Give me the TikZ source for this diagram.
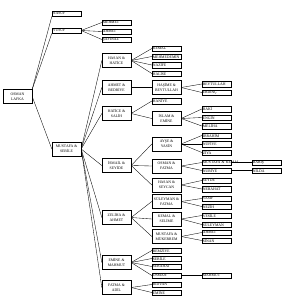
\documentclass[tikz,border=0pt]{standalone}
\usepackage{fontspec}
\setmainfont{Liberation Serif}
\begin{document}
\begin{tikzpicture}[x=1pt,y=-1pt,
  sbox/.style={draw, line width=0.35pt, minimum width=29pt, minimum height=5.5pt, text width=27.4pt, inner xsep=0.8pt, inner ysep=0.3pt, align=left, font=\fontsize{3.8}{3.9}\selectfont},
  dbox/.style={draw, line width=0.35pt, minimum width=29pt, minimum height=14pt, inner sep=0.5pt, align=center, font=\fontsize{3.8}{4.6}\selectfont},
  conn/.style={draw, line width=0.35pt}]
\useasboundingbox[fill=white] (0,0) rectangle (285,300);
% column 1
\node[dbox] (osman) at (17.5,96.5) {OSMAN\\LAFKA};
% column 2
\node[sbox] (nasuf) at (66.5,13.5) {NASUF};
\node[sbox] (yusuf) at (66.5,30.5) {YUSUF};
\node[dbox] (mustafa) at (66.5,149) {MUSTAFA \&\\SEBİLE};
% column 3
\node[sbox] (mehmet) at (116.5,22.5) {MEHMET};
\node[sbox] (ahmet1) at (116.5,31.5) {AHMET};
\node[sbox] (safinaz) at (116.5,39.5) {ŞAFİNAZ};
\node[dbox] (hasan) at (116.5,60.5) {HASAN \&\\HATİCE};
\node[dbox] (ahmetb) at (116.5,87.5) {AHMET \&\\BEDRİYE};
\node[dbox] (hatice) at (116.5,113.5) {HATİCE \&\\SALİH};
\node[dbox] (ismail) at (116.5,165.5) {İSMAİL \&\\SEYİDE};
\node[dbox] (zeliha) at (116.5,217.5) {ZELİHA \&\\AHMET};
\node[dbox] (emine) at (116.5,262.5) {EMİNE \&\\MAHMUT};
\node[dbox] (fatma) at (116.5,287.5) {FATMA \&\\ADİL};
% column 4
\node[sbox] (kemal) at (166.5,48.5) {KEMAL};
\node[sbox] (mehmedemin) at (166.5,56.5) {MEHMEDEMİN};
\node[sbox] (nazife) at (166.5,65) {NAZİFE};
\node[sbox] (halise) at (166.5,73.5) {HALİSE};
\node[dbox] (hasime) at (166.5,87.5) {HAŞİME \&\\BEYTULLAH};
\node[sbox] (haniye) at (166.5,101) {HANİYE};
\node[dbox] (islam) at (166.5,118.5) {İSLAM \&\\EMİNE};
\node[dbox] (ayse) at (166.5,144) {AYŞE \&\\YASİN};
\node[dbox] (osmanf) at (166.5,166) {OSMAN \&\\FATMA};
\node[dbox] (hasans) at (166.5,185) {HASAN \&\\SEYCAN};
\node[dbox] (suleyman) at (166.5,201.5) {SÜLEYMAN \&\\FATMA};
\node[dbox] (kemals) at (166.5,219) {KEMAL \&\\SELİME};
\node[dbox] (mustafam) at (166.5,236.5) {MUSTAFA \&\\MÜKERREM};
\node[sbox] (remziye) at (166.5,250.5) {REMZİYE};
\node[sbox] (sebile) at (166.5,258.5) {SEBİLE};
\node[sbox] (sebahat) at (166.5,266.5) {SEBAHAT};
\node[sbox] (osman2) at (166.5,275.5) {OSMAN};
\node[sbox] (ridvan) at (166.5,284.5) {RIDVAN};
\node[sbox] (emine2) at (166.5,292.5) {EMİNE};
% column 5
\node[sbox] (beytullah) at (216.5,84) {BEYTULLAH};
\node[sbox] (erdinc) at (216.5,92.5) {ERDİNÇ};
\node[sbox] (baki) at (216.5,109) {BAKİ};
\node[sbox] (engin) at (216.5,117.5) {ENGİN};
\node[sbox] (meliha) at (216.5,126) {MELİHA};
\node[sbox] (ibrahim) at (216.5,135.5) {İBRAHİM};
\node[sbox] (nufiye) at (216.5,144) {NÜFİYE};
\node[sbox] (ziya) at (216.5,152.5) {ZİYA};
\node[sbox] (mkemal) at (216.5,162.5) {\mbox{MUSTAFA \& KEMAL}};
\node[sbox] (nuriye) at (216.5,170.5) {NURİYE};
\node[sbox] (seyde) at (216.5,180.5) {SEYDE};
\node[sbox] (nebahat) at (216.5,189) {NEBAHAT};
\node[sbox] (vasif) at (216.5,198.5) {VASIF};
\node[sbox] (nezih) at (216.5,206.5) {NEZİH};
\node[sbox] (vesile) at (216.5,215.5) {VESİLE};
\node[sbox] (suleyman2) at (216.5,224.5) {SÜLEYMAN};
\node[sbox] (ahmet2) at (216.5,232.5) {AHMET};
\node[sbox] (sinan) at (216.5,240.5) {SİNAN};
\node[sbox] (mahmut) at (216.5,275.5) {MAHMUT};
% column 6
\node[sbox] (baris) at (266.5,162.5) {BARIŞ};
\node[sbox] (nilda) at (266.5,170.5) {NİLDA};
% connectors
\foreach \c in {nasuf,yusuf} \draw[conn] (osman.north east) -- (\c.south west);
\draw[conn] (osman.east) -- (mustafa.west);
\foreach \c in {mehmet,ahmet1,safinaz} \draw[conn] (yusuf.east) -- (\c.west);
\foreach \c in {hasan,ahmetb,hatice,ismail,zeliha,emine,fatma} \draw[conn] (mustafa.east) -- (\c.west);
\foreach \c in {kemal,mehmedemin,nazife,halise} \draw[conn] (hasan.east) -- (\c.west);
\draw[conn] (ahmetb.east) -- (hasime.west);
\foreach \c in {beytullah,erdinc} \draw[conn] (hasime.east) -- (\c.west);
\foreach \c in {haniye,islam} \draw[conn] (hatice.east) -- (\c.west);
\foreach \c in {baki,engin,meliha} \draw[conn] (islam.east) -- (\c.west);
\foreach \c in {ayse,osmanf,hasans} \draw[conn] (ismail.east) -- (\c.west);
\foreach \c in {ibrahim,nufiye,ziya} \draw[conn] (ayse.east) -- (\c.west);
\foreach \c in {mkemal,nuriye} \draw[conn] (osmanf.east) -- (\c.west);
\draw[conn] (mkemal.east) -- (baris.west);
\draw[conn] (nuriye.east) -- (nilda.west);
\foreach \c in {seyde,nebahat} \draw[conn] (hasans.east) -- (\c.west);
\foreach \c in {suleyman,kemals,mustafam} \draw[conn] (zeliha.east) -- (\c.west);
\foreach \c in {vasif,nezih} \draw[conn] (suleyman.east) -- (\c.west);
\foreach \c in {vesile,suleyman2} \draw[conn] (kemals.east) -- (\c.west);
\foreach \c in {ahmet2,sinan} \draw[conn] (mustafam.east) -- (\c.west);
\foreach \c in {remziye,sebile,sebahat,osman2} \draw[conn] (emine.east) -- (\c.west);
\draw[conn] (osman2.east) -- (mahmut.west);
\foreach \c in {ridvan,emine2} \draw[conn] (fatma.east) -- (\c.west);
\end{tikzpicture}
\end{document}
